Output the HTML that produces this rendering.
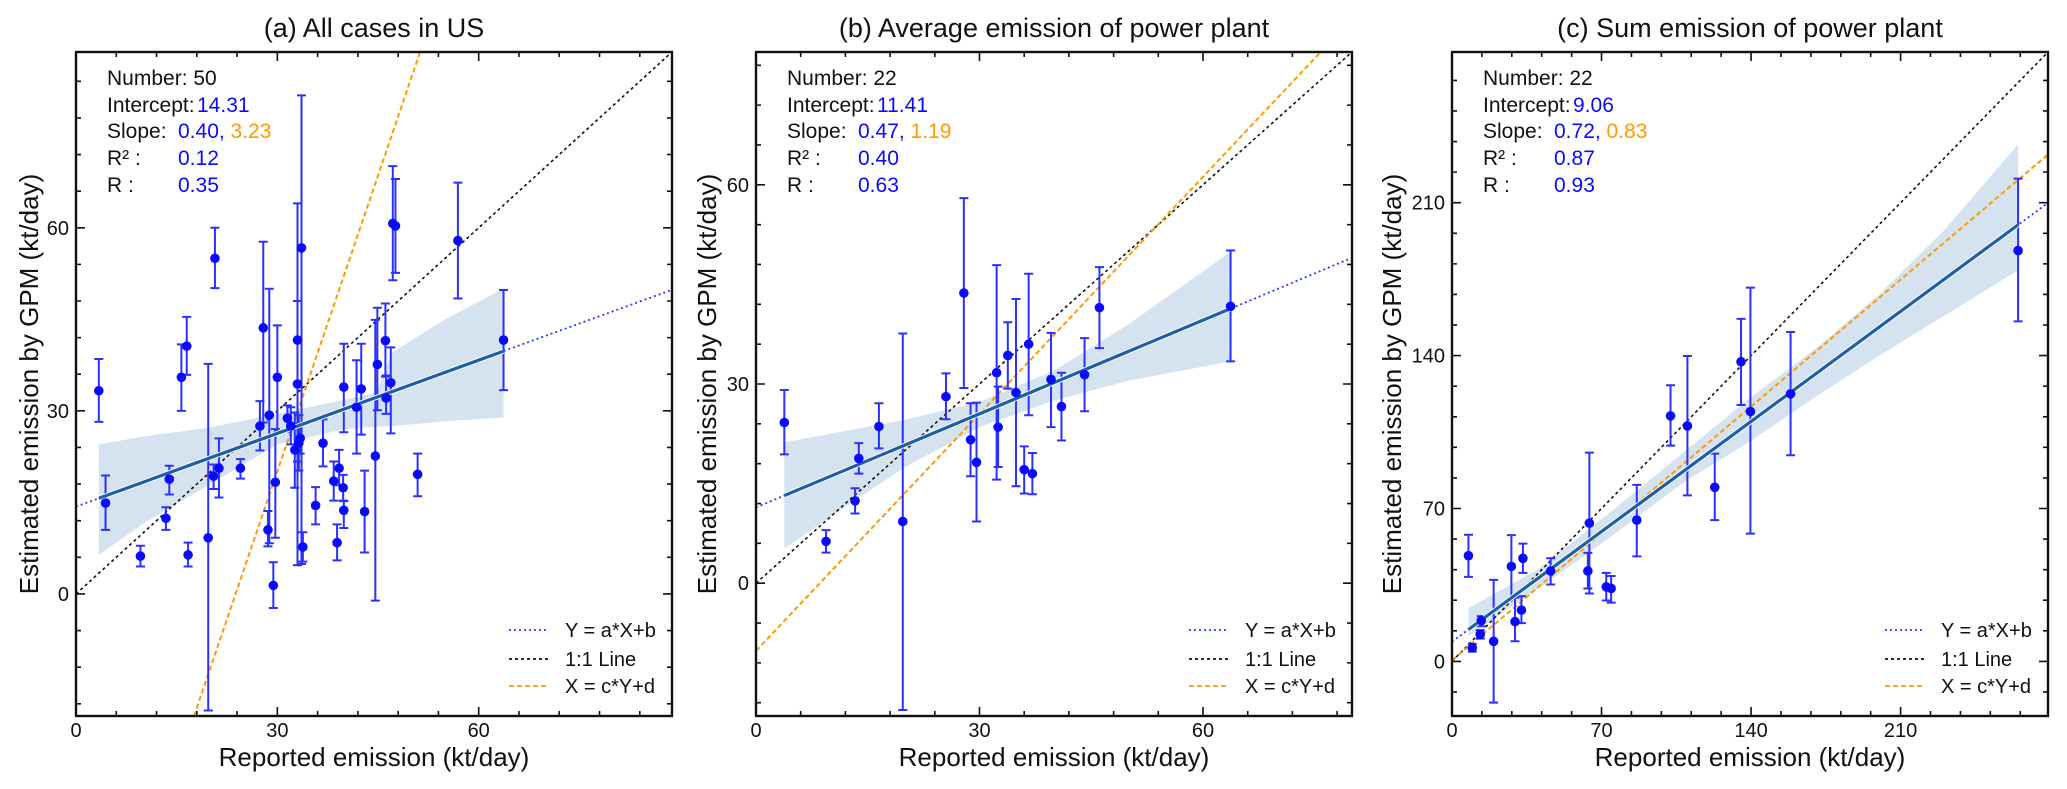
<!DOCTYPE html>
<html><head><meta charset="utf-8"><style>
html,body{margin:0;padding:0;background:#fff;width:2067px;height:789px;overflow:hidden;}
svg{display:block;font-family:"Liberation Sans",Arial,sans-serif;}
</style></head><body>
<svg id="fig" width="2067" height="789" viewBox="0 0 2067 789" xmlns="http://www.w3.org/2000/svg"></svg>
<script>
// ---------- Panel A data ----------
const aX = [3.4,4.4,9.6,13.4,13.9,15.7,16.5,16.7,19.7,20.5,20.7,21.3,24.5,27.4,27.9,28.6,28.8,29.4,29.7,30.0,31.5,32.0,32.6,33.0,33.0,33.2,33.4,33.6,33.8,35.7,36.8,38.4,38.9,39.2,39.8,39.9,39.9,41.8,42.5,43.0,44.6,44.9,46.2,46.1,46.9,47.2,47.6,50.9,56.9,63.7];
const aY = [33.3,14.9,6.2,12.4,18.8,35.5,40.6,6.4,9.2,19.3,55.0,20.6,20.6,27.5,43.6,10.5,29.3,1.4,18.3,35.5,28.8,27.5,23.6,41.6,34.4,24.7,25.5,56.7,7.7,14.5,24.7,18.5,8.4,20.6,17.4,13.7,33.9,30.6,33.6,13.5,22.6,37.6,32.1,41.5,34.6,60.7,60.3,19.6,57.9,41.6];
const aHi = [38.5,19.4,7.9,14.2,21.0,40.9,45.4,8.4,37.7,21.2,60.0,25.5,22.1,31.6,57.7,13.6,50.0,5.2,27.0,44.0,30.9,30.6,29.7,64.0,48.0,29.3,28.0,81.7,10.1,17.5,28.6,21.7,11.4,23.6,19.5,15.2,41.0,38.3,41.0,20.2,44.9,46.9,35.8,47.6,40.4,70.1,68.0,23.0,67.4,49.8];
const aLo = [28.2,10.5,4.5,10.5,16.3,30.0,35.9,4.5,-19.1,17.2,50.1,15.8,18.9,23.5,28.1,7.8,8.3,-2.3,9.2,26.4,26.6,24.5,17.4,4.7,21.7,20.2,23.0,4.9,5.3,11.4,20.9,15.3,5.5,17.8,15.3,10.8,26.5,23.0,26.1,6.8,-1.1,30.1,29.5,35.6,26.3,51.4,52.6,16.0,48.4,33.4];
const aBandX = [3.4,10,20,30,40,44.8,47,55,63.7];
const aBandUp = [24.5,25.8,27.3,29.5,31.8,33,39.5,45,50];
const aBandLo = [6.4,11.5,18,24.5,27,27.4,27.5,28.3,28.9];
const aFit = [0.40,14.31];
const aOrth = [3.23,-76.8];
const aXTicks = [0,30,60];
const aYTicks = [0,30,60];
const aStats = ["50","14.31","0.40","3.23","0.12","0.35"];

// ---------- Panel B data ----------
const bX = [3.8,9.4,13.3,13.8,16.5,19.7,25.5,27.9,28.8,29.6,32.3,32.5,33.8,34.9,36.0,36.6,37.1,39.6,41.0,44.1,46.1,63.7];
const bY = [24.2,6.3,12.4,18.8,23.6,9.3,28.1,43.7,21.6,18.2,31.7,23.5,34.3,28.7,17.1,36.0,16.5,30.7,26.6,31.4,41.5,41.7];
const bHi = [29.1,8.0,14.3,21.1,27.1,37.6,31.6,58.0,27.1,27.2,47.9,29.6,39.3,42.8,20.6,46.6,19.6,37.7,31.7,36.9,47.6,50.1];
const bLo = [19.4,4.6,10.5,16.5,20.3,-19.1,24.7,29.4,16.1,9.3,15.6,17.5,29.3,14.6,13.5,25.3,13.4,23.5,21.5,25.9,35.4,33.4];
const bBandX = [3.8,10,20,30,40,50,63.7];
const bBandUp = [21.2,22.5,24.6,27.3,32,39,49.9];
const bBandLo = [5.2,10,17.5,23.5,27.5,30.5,33.4];
const bFit = [0.47,11.41];
const bOrth = [1.19,-10.2];
const bXTicks = [0,30,60];
const bYTicks = [0,30,60];
const bStats = ["22","11.41","0.47","1.19","0.40","0.63"];

// ---------- Panel C data ----------
const cX = [7.7,9.5,13.2,13.7,19.5,27.8,29.5,32.5,33.2,46.2,63.6,64.3,72.2,74.5,86.5,102.3,110.2,123.0,135.3,139.7,158.5,265.0];
const cY = [48.4,6.2,12.4,18.7,9.2,43.5,18.2,23.5,47.2,41.4,41.4,63.3,34.1,33.4,64.7,112.4,107.8,79.7,137.2,114.4,122.5,188.1];
const cHi = [58.0,8.0,14.3,20.7,37.3,57.8,29.2,29.9,53.9,47.2,49.7,95.6,40.5,39.1,80.8,126.4,139.8,95.1,156.8,171.1,150.8,221.0];
const cLo = [38.7,4.5,10.4,16.1,-18.9,28.8,9.2,17.5,40.5,35.2,33.4,31.1,27.9,26.9,48.1,98.8,76.0,64.7,117.4,58.5,94.4,155.7];
const cBandX = [7.7,40,70,110,140,170,200,230,265];
const cBandUp = [24.4,42,65,97,121,143,168,197,236.7];
const cBandLo = [11.7,33,54,83,101,121,140,158,179.1];
const cFit = [0.72,9.06];
const cOrth = [0.83,0.5];
const cXTicks = [0,70,140,210];
const cYTicks = [0,70,140,210];
const cStats = ["22","9.06","0.72","0.83","0.87","0.93"];

const NS = "http://www.w3.org/2000/svg";
const fig = document.getElementById('fig');
function mk(tag, attrs, parent){
  const e = document.createElementNS(NS, tag);
  for (const k in attrs) e.setAttribute(k, attrs[k]);
  (parent||fig).appendChild(e);
  return e;
}
const BLUE = "#0a0aff", ORANGE = "#ff9a00";

// clip line y = s*x + e to the data window
function clipLine(s, e, x0, x1, y0, y1){
  let xa = x0, xb = x1;
  if (s !== 0){
    const xA = (y0 - e)/s, xB = (y1 - e)/s;
    xa = Math.max(xa, Math.min(xA, xB));
    xb = Math.min(xb, Math.max(xA, xB));
  }
  return [xa, s*xa+e, xb, s*xb+e];
}

function panel(p){
  const {id,L,R,T,B,x0,x1,y0,y1,minor,xs,ys,hi,lo,bx,bu,bl,fit,orth,xt,yt,stats,title} = p;
  const g = mk('g',{});
  
  
  const X = v => L + (v-x0)/(x1-x0)*(R-L);
  const Y = v => B - (v-y0)/(y1-y0)*(B-T);
  const clipId = 'clip'+id;
  const cp = mk('clipPath',{id:clipId},g);
  mk('rect',{x:L,y:T,width:R-L,height:B-T},cp);
  const plot = mk('g',{'clip-path':'url(#'+clipId+')'},g);
  let d = '';
  bx.forEach((v,i)=>{ d += (i?'L':'M')+X(v)+','+Y(bu[i]); });
  for (let i=bx.length-1;i>=0;i--) d += 'L'+X(bx[i])+','+Y(bl[i]);
  const band = mk('path',{d:d+'Z',fill:'#d5e3f0'},plot);
  
  
  const c1 = clipLine(1, 0, x0, x1, y0, y1);
  const one = mk('line',{x1:X(c1[0]),y1:Y(c1[1]),x2:X(c1[2]),y2:Y(c1[3]),stroke:'#111','stroke-width':1.6,'stroke-dasharray':'3,3'},plot);
  
  
  const c2 = clipLine(orth[0], orth[1], x0, x1, y0, y1);
  const ol = mk('line',{x1:X(c2[0]),y1:Y(c2[1]),x2:X(c2[2]),y2:Y(c2[3]),stroke:ORANGE,'stroke-width':2,'stroke-dasharray':'5,3'},plot);
  
  
  const fy = x => fit[0]*x+fit[1];
  const c3 = clipLine(fit[0], fit[1], x0, x1, y0, y1);
  const rl = mk('line',{x1:X(c3[0]),y1:Y(c3[1]),x2:X(c3[2]),y2:Y(c3[3]),stroke:'#2a3cff','stroke-width':1.8,'stroke-dasharray':'2,3'},plot);
  
  
  xs.forEach((v,i)=>{
    const eb = mk('path',{d:`M${X(v)},${Y(hi[i])}V${Y(lo[i])}M${X(v)-4.5},${Y(hi[i])}h9M${X(v)-4.5},${Y(lo[i])}h9`,stroke:'#2a30ff','stroke-width':2,fill:'none'},plot);
    
    
  });
  const xmin = Math.min(...xs), xmax = Math.max(...xs);
  mk('line',{x1:X(xmin),y1:Y(fy(xmin)),x2:X(xmax),y2:Y(fy(xmax)),stroke:'#fff','stroke-width':5},plot);
  const sl = mk('line',{x1:X(xmin),y1:Y(fy(xmin)),x2:X(xmax),y2:Y(fy(xmax)),stroke:'#1d5fa6','stroke-width':3.2},plot);
  
  
  xs.forEach((v,i)=>{
    const c = mk('circle',{cx:X(v),cy:Y(ys[i]),r:4.8,fill:BLUE},plot);
    
    
  });
  let tk = '';
  for (let v = Math.ceil(x0/minor)*minor; v<=x1+1e-9; v+=minor){
    const major = xt.some(t=>Math.abs(t-v)<1e-6), len = major?9:5;
    tk += `M${X(v)},${B}v${-len}M${X(v)},${T}v${len}`;
  }
  for (let v = Math.ceil(y0/minor)*minor; v<=y1+1e-9; v+=minor){
    const major = yt.some(t=>Math.abs(t-v)<1e-6), len = major?9:5;
    tk += `M${L},${Y(v)}h${len}M${R},${Y(v)}h${-len}`;
  }
  mk('path',{d:tk,stroke:'#111','stroke-width':1.6,fill:'none'},g);
  const fr = mk('rect',{x:L,y:T,width:R-L,height:B-T,fill:'none',stroke:'#111','stroke-width':2.4},g);
  
  
  xt.forEach(v=>{
    const t = mk('text',{x:X(v),y:737,'font-size':20,'text-anchor':'middle',fill:'#111'},g);
    t.textContent = v;
    
    
  });
  yt.forEach(v=>{
    const t = mk('text',{x:L-7,y:Y(v)+7,'font-size':20,'text-anchor':'end',fill:'#111'},g);
    t.textContent = v;
    
    
  });
  const xtl = mk('text',{x:(L+R)/2,y:766,'font-size':26,'text-anchor':'middle',fill:'#111'},g);
  xtl.textContent = 'Reported emission (kt/day)';
  
  
  const yx = p.ylx, yc = (T+B)/2;
  const ytl = mk('text',{x:0,y:0,'font-size':26,'text-anchor':'middle',fill:'#111',transform:`translate(${yx+9} ${yc}) rotate(-90)`},g);
  ytl.textContent = 'Estimated emission by GPM (kt/day)';
  
  
  const tt = mk('text',{x:(L+R)/2,y:37,'font-size':27,'text-anchor':'middle',fill:'#111'},g);
  tt.textContent = title;
  
  
  const sx = L+31, vx = L+102, ix = L+121, base = [85,112,138,165,192];
  const labels = ['Number: '+stats[0],'Intercept:','Slope:','R² :','R :'];
  labels.forEach((s,i)=>{
    const t = mk('text',{x:sx,y:base[i],'font-size':21,fill:'#111'},g);
    t.textContent = s;
    
    
  });
  const iv = mk('text',{x:ix,y:base[1],'font-size':21,fill:BLUE},g); iv.textContent = stats[1];
  
  
  const sv = mk('text',{x:vx,y:base[2],'font-size':21,fill:BLUE},g);
  sv.textContent = stats[2]+', ';
  
  
  const ts = mk('tspan',{fill:ORANGE},sv); ts.textContent = stats[3];
  const r2 = mk('text',{x:vx,y:base[3],'font-size':21,fill:BLUE},g); r2.textContent = stats[4];
  
  
  const rv = mk('text',{x:vx,y:base[4],'font-size':21,fill:BLUE},g); rv.textContent = stats[5];
  
  
  const leg = [['Y = a*X+b','#2a3cff','2,3'],['1:1 Line','#111','3,3'],['X = c*Y+d',ORANGE,'5,3']];
  const ly = [630,659,686];
  leg.forEach((e,i)=>{
    const lg = mk('g',{},g);
    
    
    mk('line',{x1:R-163,y1:ly[i],x2:R-123,y2:ly[i],stroke:e[1],'stroke-width':1.8,'stroke-dasharray':e[2]},lg);
    const t = mk('text',{x:R-107,y:ly[i]+7,'font-size':20,fill:'#111'},lg);
    t.textContent = e[0];
  });
}

panel({id:'a',L:76,R:672,T:52,B:716,x0:0,x1:88.8,y0:-20,y1:88.8,minor:6,xs:aX,ys:aY,hi:aHi,lo:aLo,bx:aBandX,bu:aBandUp,bl:aBandLo,fit:aFit,orth:aOrth,xt:aXTicks,yt:aYTicks,stats:aStats,title:'(a) All cases in US',ylx:29});
panel({id:'b',L:756,R:1352,T:52,B:716,x0:0,x1:80,y0:-20,y1:80,minor:6,xs:bX,ys:bY,hi:bHi,lo:bLo,bx:bBandX,bu:bBandUp,bl:bBandLo,fit:bFit,orth:bOrth,xt:bXTicks,yt:bYTicks,stats:bStats,title:'(b) Average emission of power plant',ylx:707});
panel({id:'c',L:1452,R:2048,T:52,B:716,x0:0,x1:279,y0:-25,y1:279,minor:14,xs:cX,ys:cY,hi:cHi,lo:cLo,bx:cBandX,bu:cBandUp,bl:cBandLo,fit:cFit,orth:cOrth,xt:cXTicks,yt:cYTicks,stats:cStats,title:'(c) Sum emission of power plant',ylx:1392});
</script>
</body></html>
